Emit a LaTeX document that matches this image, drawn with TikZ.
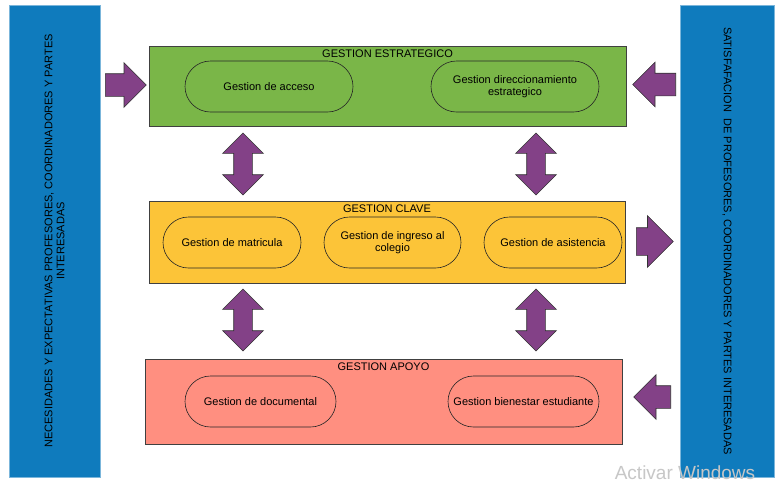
\documentclass[tikz,border=0pt]{standalone}
\usepackage{fontspec}
\setmainfont{Liberation Sans}
\usetikzlibrary{shapes.arrows,shapes.misc}
\definecolor{ladoazul}{HTML}{0F7BBD}
\definecolor{verdeproc}{HTML}{7AB648}
\definecolor{amarilloproc}{HTML}{FCC438}
\definecolor{rojoproc}{HTML}{FF8F80}
\definecolor{moradoflecha}{HTML}{834187}
\tikzset{
  lado/.style={fill=ladoazul,draw=ladoazul!55!white,line width=0.6pt,inner sep=0pt},
  proceso/.style={draw=black!75,line width=0.7pt,inner sep=0pt},
  titulo/.style={below,inner sep=3.5pt},
  gestion/.style={rounded rectangle,draw=black!85,line width=0.6pt,align=center,inner sep=0pt,minimum height=51pt},
  flecha/.style={single arrow,anchor=tail,fill=moradoflecha,draw=black!80,line width=0.6pt,inner xsep=0pt,single arrow head extend=11pt,minimum width=44pt},
  dobleflecha/.style={double arrow,fill=moradoflecha,draw=black!80,line width=0.6pt,inner ysep=0pt,inner xsep=9pt,double arrow head extend=11pt,minimum width=40pt,minimum height=62pt,shape border rotate=90}
}
\begin{document}
\begin{tikzpicture}[x=1pt,y=-1pt,font=\fontsize{11}{12}\selectfont]
\useasboundingbox[fill=white] (0,0) rectangle (779,488);
% laterales
\node[lado,minimum width=91pt,minimum height=472pt] (entrada) at (54.5,241) {};
\node[rotate=90,align=center] at (entrada.center) {NECESIDADES Y EXPECTATIVAS PROFESORES, COORDINADORES Y PARTES\\INTERESADAS};
\node[lado,minimum width=94pt,minimum height=472pt] (salida) at (727,241) {};
\node[rotate=-90] at (salida.center) {SATISFAFACION\ \ DE PROFESORES, COORDINADORES Y PARTES INTERESADAS};
% procesos
\node[proceso,fill=verdeproc,minimum width=477pt,minimum height=80pt] (estr) at (387.5,86) {};
\node[titulo] at (estr.north) {GESTION ESTRATEGICO};
\node[gestion,minimum width=168pt] (acceso) at (269,86.5) {Gestion de acceso};
\node[gestion,minimum width=168pt] (direc) at (515,86.5) {Gestion direccionamiento\\estrategico};
\node[proceso,fill=amarilloproc,minimum width=476pt,minimum height=82pt] (clave) at (387,242) {};
\node[titulo] at (clave.north) {GESTION CLAVE};
\node[gestion,minimum width=138pt] (matric) at (232,242.5) {Gestion de matricula};
\node[gestion,minimum width=137pt] (ingreso) at (392.5,242.5) {Gestion de ingreso al\\colegio};
\node[gestion,minimum width=138pt] (asist) at (553,242.5) {Gestion de asistencia};
\node[proceso,fill=rojoproc,minimum width=477pt,minimum height=85pt] (apoyo) at (383.5,401.5) {};
\node[titulo] at (apoyo.north) {GESTION APOYO};
\node[gestion,minimum width=151pt] (docum) at (260.5,401.5) {Gestion de documental};
\node[gestion,minimum width=151pt] (bienes) at (523.5,401.5) {Gestion bienestar estudiante};
% flechas
\node[flecha,inner ysep=11pt,minimum height=41pt] (f1) at (105,85) {};
\node[flecha,inner ysep=11pt,minimum height=43pt,shape border rotate=180] (f2) at (676,84.5) {};
\node[flecha,inner ysep=13.5pt,single arrow head extend=12pt,minimum width=51pt,minimum height=37pt] (f3) at (636,241.5) {};
\node[flecha,inner ysep=11pt,minimum height=37pt,shape border rotate=180] (f4) at (671,397) {};
\foreach \x/\y/\n in {243/164/a,536/164/b,243/320/c,536/320/d}
\node[dobleflecha] (v\n) at (\x,\y) {};
\node[text=black!22,font=\fontsize{19}{20}\selectfont] at (685,473) {Activar Windows};
\end{tikzpicture}
\end{document}
